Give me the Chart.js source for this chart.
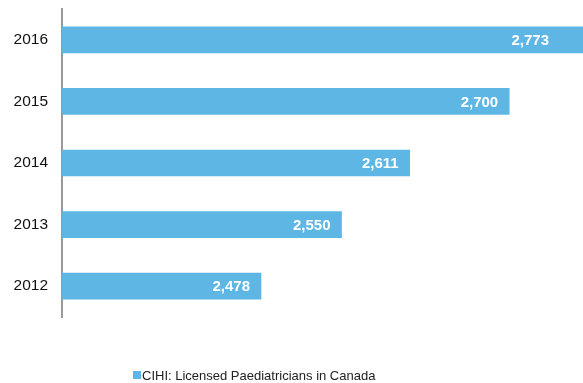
<!DOCTYPE html>
<html>
<head>
<meta charset="utf-8">
<script src="https://cdn.jsdelivr.net/npm/chart.js@4/dist/chart.umd.min.js"></script>
<style>
  html, body { margin: 0; padding: 0; background: #fff; }
  canvas { display: block; }
</style>
</head>
<body>
<canvas id="myChart" width="583" height="383"></canvas>
<script>
const years = ['2016', '2015', '2014', '2013', '2012'];
const paediatricians = [2773, 2700, 2611, 2550, 2478];
const seriesName = 'CIHI: Licensed Paediatricians in Canada';
const barColor = '#5eb6e4';

// value labels inside the bar ends, plus the little legend at the bottom
const barLabels = {
    id: 'barLabels',
    afterDatasetsDraw(chart) {
        const { ctx, chartArea } = chart;
        const meta = chart.getDatasetMeta(0);
        ctx.save();
        ctx.font = 'bold 15px "Liberation Sans", Arial, sans-serif';
        ctx.fillStyle = '#ffffff';
        ctx.textAlign = 'right';
        ctx.textBaseline = 'middle';
        meta.data.forEach((bar, i) => {
            const end = Math.min(bar.x, chartArea.right - 23);
            ctx.fillText(paediatricians[i].toLocaleString('en-US'), end - 11, bar.y + 1);
        });

        ctx.fillStyle = barColor;
        ctx.fillRect(133, 371, 8, 8);
        ctx.fillStyle = '#222';
        ctx.textAlign = 'left';
        ctx.font = '13px "Liberation Sans", Arial, sans-serif';
        ctx.fillText(seriesName, 142, 376);
        ctx.restore();
    }
};

new Chart(document.getElementById('myChart'), {
    type: 'bar',
    data: {
        labels: years,
        datasets: [{
            label: seriesName,
            data: paediatricians,
            backgroundColor: barColor,
            barThickness: 26
        }]
    },
    options: {
        indexAxis: 'y',
        responsive: false,
        animation: false,
        layout: { padding: { top: 9, bottom: 66, left: 0, right: 0 } },
        scales: {
            x: {
                display: false,
                min: 2300,
                max: 2766
            },
            y: {
                afterFit: s => {
                    s.width = 62;
                    s.paddingTop = 0;
                    s.paddingBottom = 0;
                },
                grid: { display: false, drawTicks: false },
                border: { display: true, color: '#999', width: 2 },
                ticks: {
                    padding: 14,
                    color: '#111',
                    font: { family: '"Liberation Sans", Arial, sans-serif', size: 15.5 }
                }
            }
        },
        plugins: {
            legend: { display: false },
            tooltip: { enabled: false }
        }
    },
    plugins: [barLabels]
});
</script>
</body>
</html>
